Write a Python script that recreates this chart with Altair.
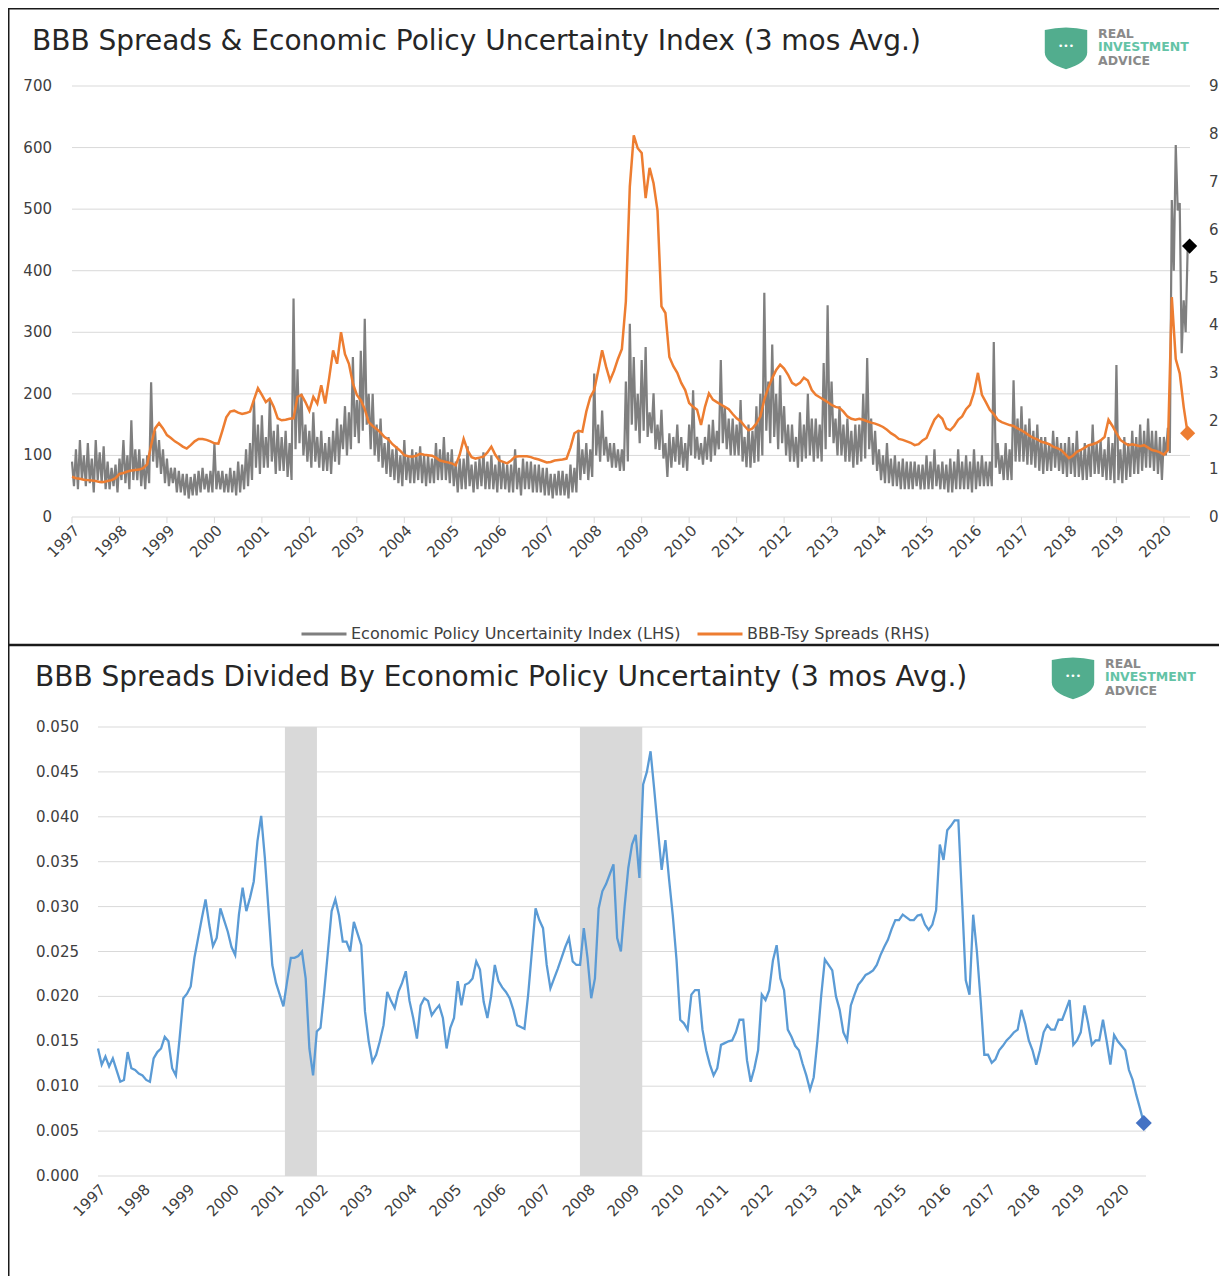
import altair as alt
import pandas as pd

# ---------------- data (monthly, Jan 1997 .. Jul 2020) ----------------
EPU_NAME = "Economic Policy Uncertainity Index (LHS)"
BBB_NAME = "BBB-Tsy Spreads (RHS)"

# EPU: a high reading early in each month and a low reading later in the month
epu_hi = [
    90, 110, 125, 100, 120, 95, 125, 105, 115, 90, 80, 85,          # 1997
    95, 125, 100, 157, 110, 110, 95, 100, 219, 140, 125, 110,       # 1998
    95, 80, 80, 75, 70, 70, 65, 70, 75, 80, 70, 75,                 # 1999
    119, 75, 75, 70, 80, 75, 90, 85, 110, 120, 190, 150,            # 2000
    165, 130, 190, 140, 150, 130, 140, 120, 355, 240, 200, 150,     # 2001
    140, 170, 130, 140, 120, 130, 140, 160, 150, 180, 170, 260,     # 2002
    190, 270, 322, 200, 200, 150, 160, 120, 130, 110, 115, 100,     # 2003
    125, 100, 110, 105, 115, 100, 100, 95, 120, 110, 130, 105,      # 2004
    110, 90, 95, 95, 115, 85, 90, 95, 105, 90, 100, 85,             # 2005
    100, 90, 85, 85, 110, 80, 95, 90, 90, 85, 85, 80,               # 2006
    80, 70, 70, 75, 75, 70, 85, 80, 140, 110, 120, 110,             # 2007
    233, 150, 173, 130, 120, 120, 110, 110, 220, 314, 260, 200,     # 2008
    255, 276, 170, 201, 150, 174, 120, 136, 130, 150, 130, 120,     # 2009
    150, 206, 130, 120, 130, 150, 158, 140, 255, 180, 160, 160,     # 2010
    150, 190, 130, 150, 140, 180, 200, 364, 220, 280, 200, 230,     # 2011
    180, 150, 150, 130, 170, 150, 200, 160, 160, 150, 250, 344,     # 2012
    220, 160, 180, 150, 160, 140, 150, 150, 200, 258, 160, 140,     # 2013
    110, 100, 120, 95, 100, 90, 95, 90, 90, 90, 85, 85,             # 2014
    100, 90, 110, 85, 90, 85, 95, 90, 110, 90, 100, 90,             # 2015
    110, 90, 100, 90, 90, 284, 120, 100, 120, 110, 222, 160,        # 2016
    180, 150, 160, 140, 150, 130, 130, 120, 140, 130, 120, 120,     # 2017
    130, 120, 140, 110, 120, 115, 150, 120, 125, 110, 130, 120,     # 2018
    247, 110, 130, 120, 140, 130, 150, 140, 160, 140, 140, 130,     # 2019
    130, 145, 515, 604, 510, 352, 434,                              # 2020
]
epu_lo = [
    50, 45, 60, 50, 55, 40, 60, 55, 45, 45, 50, 40,                 # 1997
    60, 55, 45, 60, 60, 50, 45, 55, 90, 80, 70, 55,                 # 1998
    50, 55, 40, 40, 35, 30, 35, 35, 40, 45, 40, 40,                 # 1999
    45, 45, 40, 40, 40, 35, 40, 45, 50, 60, 80, 70,                 # 2000
    80, 80, 90, 70, 75, 75, 65, 60, 110, 120, 100, 90,              # 2001
    80, 90, 80, 75, 75, 70, 90, 85, 110, 100, 110, 130,             # 2002
    120, 140, 150, 110, 100, 90, 80, 70, 65, 60, 55, 50,            # 2003
    60, 55, 55, 60, 55, 50, 55, 55, 60, 60, 60, 55,                 # 2004
    50, 40, 45, 45, 50, 40, 45, 50, 45, 45, 45, 40,                 # 2005
    45, 45, 40, 40, 45, 35, 45, 45, 40, 40, 40, 35,                 # 2006
    35, 30, 35, 35, 35, 30, 40, 40, 60, 70, 60, 65,                 # 2007
    100, 90, 100, 90, 80, 80, 75, 75, 90, 150, 140, 120,            # 2008
    140, 130, 136, 110, 109, 95, 65, 80, 90, 85, 80, 75,            # 2009
    100, 95, 93, 85, 93, 90, 100, 110, 120, 110, 100, 100,          # 2010
    100, 90, 81, 80, 88, 90, 100, 140, 120, 130, 110, 120,          # 2011
    100, 90, 90, 80, 90, 95, 100, 90, 95, 90, 110, 130,             # 2012
    120, 100, 100, 90, 90, 80, 85, 90, 95, 110, 85, 75,             # 2013
    60, 55, 55, 50, 50, 45, 45, 45, 45, 50, 45, 45,                 # 2014
    45, 45, 50, 45, 45, 40, 40, 45, 45, 45, 45, 40,                 # 2015
    45, 50, 50, 50, 50, 80, 70, 60, 60, 60, 90, 90,                 # 2016
    90, 85, 85, 80, 75, 70, 75, 75, 80, 75, 70, 65,                 # 2017
    70, 65, 65, 60, 60, 65, 70, 70, 65, 60, 60, 55,                 # 2018
    60, 55, 60, 65, 70, 70, 75, 80, 80, 75, 70, 60,                 # 2019
    100, 104, 400, 498, 266, 300, 440,                              # 2020
]

bbb = [
    0.84, 0.81, 0.80, 0.78, 0.77, 0.76, 0.75, 0.73, 0.73, 0.75, 0.77, 0.81,  # 1997
    0.90, 0.92, 0.95, 0.97, 0.98, 0.99, 1.02, 1.10, 1.50, 1.85, 1.96, 1.85,  # 1998
    1.71, 1.65, 1.58, 1.53, 1.47, 1.43, 1.50, 1.58, 1.63, 1.63, 1.61, 1.58,  # 1999
    1.54, 1.53, 1.80, 2.08, 2.20, 2.22, 2.18, 2.15, 2.17, 2.20, 2.45, 2.69,  # 2000
    2.55, 2.40, 2.47, 2.30, 2.06, 2.02, 2.03, 2.05, 2.06, 2.51, 2.55, 2.40,  # 2001
    2.22, 2.51, 2.37, 2.75, 2.37, 2.90, 3.48, 3.20, 3.86, 3.40, 3.20, 2.79,  # 2002
    2.55, 2.44, 2.25, 1.98, 1.90, 1.84, 1.76, 1.67, 1.62, 1.52, 1.45, 1.38,  # 2003
    1.29, 1.27, 1.26, 1.28, 1.32, 1.30, 1.29, 1.28, 1.24, 1.18, 1.16, 1.14,  # 2004
    1.12, 1.08, 1.30, 1.63, 1.39, 1.25, 1.22, 1.24, 1.26, 1.35, 1.47, 1.30,  # 2005
    1.18, 1.15, 1.12, 1.18, 1.26, 1.27, 1.27, 1.27, 1.25, 1.22, 1.20, 1.17,  # 2006
    1.14, 1.15, 1.18, 1.19, 1.20, 1.22, 1.45, 1.75, 1.80, 1.78, 2.20, 2.50,  # 2007
    2.65, 3.05, 3.48, 3.14, 2.85, 3.05, 3.30, 3.51, 4.50, 6.90, 7.97, 7.70,  # 2008
    7.60, 6.66, 7.29, 6.97, 6.40, 4.40, 4.26, 3.34, 3.15, 3.01, 2.80, 2.65,  # 2009
    2.38, 2.30, 2.24, 1.92, 2.30, 2.58, 2.45, 2.40, 2.35, 2.30, 2.25, 2.15,  # 2010
    2.06, 2.00, 1.90, 1.81, 1.85, 1.95, 2.10, 2.45, 2.70, 2.90, 3.07, 3.18,  # 2011
    3.10, 2.97, 2.80, 2.75, 2.80, 2.91, 2.85, 2.65, 2.55, 2.50, 2.45, 2.40,  # 2012
    2.34, 2.30, 2.28, 2.20, 2.10, 2.05, 2.03, 2.05, 2.03, 2.00, 1.97, 1.95,  # 2013
    1.92, 1.88, 1.82, 1.75, 1.70, 1.63, 1.61, 1.58, 1.55, 1.50, 1.52, 1.60,  # 2014
    1.65, 1.85, 2.03, 2.13, 2.05, 1.85, 1.81, 1.90, 2.03, 2.10, 2.25, 2.34,  # 2015
    2.60, 3.01, 2.55, 2.40, 2.24, 2.15, 2.03, 1.98, 1.95, 1.92, 1.90, 1.85,  # 2016
    1.81, 1.76, 1.70, 1.65, 1.62, 1.57, 1.55, 1.52, 1.47, 1.44, 1.40, 1.32,  # 2017
    1.23, 1.28, 1.36, 1.40, 1.45, 1.50, 1.52, 1.55, 1.60, 1.67, 2.03, 1.90,  # 2018
    1.75, 1.61, 1.55, 1.50, 1.52, 1.50, 1.48, 1.50, 1.45, 1.40, 1.38, 1.35,  # 2019
    1.30, 1.40, 4.59, 3.30, 3.00, 2.30, 1.75,                                # 2020
]

ratio = [
    0.0142, 0.0124, 0.0133, 0.0122, 0.0131, 0.0118, 0.0105, 0.0107, 0.0138, 0.0120, 0.0118, 0.0114,  # 1997
    0.0112, 0.0107, 0.0105, 0.0131, 0.0138, 0.0142, 0.0155, 0.0150, 0.0120, 0.0112, 0.0153, 0.0198,  # 1998
    0.0203, 0.0211, 0.0243, 0.0265, 0.0287, 0.0308, 0.0280, 0.0256, 0.0265, 0.0298, 0.0285, 0.0272,  # 1999
    0.0255, 0.0246, 0.0291, 0.0321, 0.0295, 0.0310, 0.0328, 0.0373, 0.0401, 0.0354, 0.0295, 0.0235,  # 2000
    0.0215, 0.0202, 0.0189, 0.0217, 0.0243, 0.0243, 0.0245, 0.0250, 0.0220, 0.0142, 0.0112, 0.0161,  # 2001
    0.0165, 0.0205, 0.0250, 0.0295, 0.0308, 0.0290, 0.0261, 0.0261, 0.0250, 0.0283, 0.0270, 0.0257,  # 2002
    0.0183, 0.0150, 0.0127, 0.0135, 0.0150, 0.0168, 0.0205, 0.0195, 0.0187, 0.0205, 0.0215, 0.0228,  # 2003
    0.0195, 0.0176, 0.0153, 0.0190, 0.0198, 0.0195, 0.0179, 0.0185, 0.0190, 0.0176, 0.0142, 0.0165,  # 2004
    0.0176, 0.0217, 0.0190, 0.0213, 0.0215, 0.0220, 0.0239, 0.0230, 0.0194, 0.0176, 0.0200, 0.0235,  # 2005
    0.0217, 0.0210, 0.0205, 0.0198, 0.0185, 0.0168, 0.0166, 0.0164, 0.0202, 0.0250, 0.0298, 0.0285,  # 2006
    0.0276, 0.0235, 0.0209, 0.0220, 0.0231, 0.0243, 0.0255, 0.0265, 0.0239, 0.0235, 0.0235, 0.0276,  # 2007
    0.0243, 0.0198, 0.0220, 0.0298, 0.0317, 0.0325, 0.0336, 0.0347, 0.0265, 0.0250, 0.0300, 0.0343,  # 2008
    0.0369, 0.0380, 0.0332, 0.0436, 0.0450, 0.0473, 0.0430, 0.0385, 0.0341, 0.0374, 0.0330, 0.0290,  # 2009
    0.0241, 0.0174, 0.0170, 0.0163, 0.0202, 0.0207, 0.0207, 0.0163, 0.0140, 0.0124, 0.0112, 0.0120,  # 2010
    0.0146, 0.0148, 0.0150, 0.0151, 0.0160, 0.0174, 0.0174, 0.0129, 0.0105, 0.0120, 0.0140, 0.0202,  # 2011
    0.0196, 0.0207, 0.0240, 0.0257, 0.0220, 0.0207, 0.0163, 0.0155, 0.0145, 0.0140, 0.0125, 0.0112,  # 2012
    0.0096, 0.0110, 0.0151, 0.0200, 0.0241, 0.0235, 0.0229, 0.0200, 0.0185, 0.0160, 0.0151, 0.0190,  # 2013
    0.0202, 0.0213, 0.0218, 0.0224, 0.0226, 0.0229, 0.0235, 0.0246, 0.0255, 0.0263, 0.0275, 0.0285,  # 2014
    0.0285, 0.0291, 0.0288, 0.0285, 0.0285, 0.0290, 0.0291, 0.0280, 0.0274, 0.0280, 0.0296, 0.0369,  # 2015
    0.0352, 0.0385, 0.0390, 0.0396, 0.0396, 0.0307, 0.0218, 0.0202, 0.0291, 0.0250, 0.0196, 0.0135,  # 2016
    0.0135, 0.0126, 0.0130, 0.0140, 0.0145, 0.0151, 0.0155, 0.0160, 0.0163, 0.0185, 0.0170, 0.0151,  # 2017
    0.0140, 0.0124, 0.0140, 0.0160, 0.0168, 0.0163, 0.0163, 0.0174, 0.0174, 0.0185, 0.0196, 0.0146,  # 2018
    0.0151, 0.0160, 0.0190, 0.0170, 0.0146, 0.0151, 0.0151, 0.0174, 0.0150, 0.0124, 0.0157, 0.0150,  # 2019
    0.0145, 0.0140, 0.0118, 0.0107, 0.0090, 0.0075, 0.0059,                                          # 2020
]

rec_start = [2001.2, 2007.83]
rec_end = [2001.92, 2009.23]

year_ticks = list(range(1997, 2021))
left_ticks = list(range(0, 701, 100))
right_ticks = list(range(0, 10))
ratio_ticks = [0.0, 0.005, 0.01, 0.015, 0.02, 0.025, 0.03, 0.035, 0.04, 0.045, 0.05]

TITLE_TOP = "BBB Spreads & Economic Policy Uncertainty Index (3 mos Avg.)"
TITLE_BOT = "BBB Spreads Divided By Economic Policy Uncertainty (3 mos Avg.)"

# ---------------- frames ----------------
n = len(bbb)
t = [y + m / 12 for y in range(1997, 2021) for m in range(12)][:n]
top_df = pd.DataFrame({"t": t, "bbb": bbb})
epu_rows = []
for i in range(n):
    epu_rows.append({"t": t[i], "epu": epu_hi[i]})
    epu_rows.append({"t": t[i] + 0.5 / 12, "epu": epu_lo[i]})
epu_df = pd.DataFrame(epu_rows)
bot_df = pd.DataFrame({"t": t[:len(ratio)], "ratio": ratio})
rec_df = pd.DataFrame({"start": rec_start, "end": rec_end})
year_df = pd.DataFrame({"v": year_ticks, "lab": [str(y) for y in year_ticks]})
left_df = pd.DataFrame({"v": left_ticks, "lab": [str(v) for v in left_ticks]})
right_df = pd.DataFrame({"v": right_ticks, "lab": [str(v) for v in right_ticks]})
ratio_df = pd.DataFrame({"v": ratio_ticks, "lab": [f"{v:.3f}" for v in ratio_ticks]})
one = alt.Data(values=[{"k": 0}])

# ---------------- geometry (single canvas, page offset 8px) ----------------
W, H = 1211, 1268
FONT = "DejaVu Sans"
GRID = "#D9D9D9"
LAB = "#404040"
X_DOMAIN = [1997, 2020.55]

TOP_L, TOP_R, TOP_T, TOP_B = 64, 1182, 78, 509
BOT_L, BOT_R, BOT_T, BOT_B = 90, 1138, 719, 1168

xs_top = alt.Scale(domain=X_DOMAIN, range=[TOP_L, TOP_R], nice=False, zero=False)
ys_left = alt.Scale(domain=[0, 700], range=[TOP_B, TOP_T], nice=False, zero=False)
ys_right = alt.Scale(domain=[0, 9], range=[TOP_B, TOP_T], nice=False, zero=False)
xs_bot = alt.Scale(domain=X_DOMAIN, range=[BOT_L, BOT_R], nice=False, zero=False)
ys_bot = alt.Scale(domain=[0, 0.05], range=[BOT_B, BOT_T], nice=False, zero=False)

SHIELD = "M-1,-0.8 Q0,-1.05 1,-0.8 L1,0.25 Q1,0.75 0,1.05 Q-1,0.75 -1,0.25 Z"


def X(field, scale):
    return alt.X(field, scale=scale, axis=None)


def Y(field, scale):
    return alt.Y(field, scale=scale, axis=None)


def deco_text(txt, x, y, size, color, weight="normal", align="left"):
    return alt.Chart(one).mark_text(
        text=txt, align=align, baseline="middle", font=FONT, fontSize=size,
        color=color, fontWeight=weight
    ).encode(x=alt.value(x), y=alt.value(y))


def hrule(x1, x2, y, w=1.5):
    return alt.Chart(one).mark_rule(color="#1a1a1a", strokeWidth=w).encode(
        x=alt.value(x1), x2=alt.value(x2), y=alt.value(y))


def vrule(x, y1, y2, w=1.5):
    return alt.Chart(one).mark_rule(color="#1a1a1a", strokeWidth=w).encode(
        x=alt.value(x), y=alt.value(y1), y2=alt.value(y2))


def logo(cx, cy):
    shield = alt.Chart(one).mark_point(
        shape=SHIELD, filled=True, size=1800, color="#52AD8E", opacity=1
    ).encode(x=alt.value(cx), y=alt.value(cy))
    dots = deco_text("•••", cx, cy - 1, 9, "white", align="center")
    tx = cx + 32
    real = deco_text("REAL", tx, cy - 13.5, 12.5, "#8a8a8a", "bold")
    inv = deco_text("INVESTMENT", tx, cy, 12.5, "#63C3A6", "bold")
    adv = deco_text("ADVICE", tx, cy + 13.5, 12.5, "#8a8a8a", "bold")
    return [shield, dots, real, inv, adv]


def grid_layer(df, yscale, x1, x2):
    return alt.Chart(df).mark_rule(color=GRID, strokeWidth=1).encode(
        x=alt.value(x1), x2=alt.value(x2), y=Y("v:Q", yscale))


def ylabel_layer(df, yscale, x, align):
    return alt.Chart(df).mark_text(
        align=align, baseline="middle", font=FONT, fontSize=15, color=LAB
    ).encode(x=alt.value(x), y=Y("v:Q", yscale), text="lab:N")


def xlabel_layer(xscale, y):
    return alt.Chart(year_df).mark_text(
        align="right", baseline="top", angle=315, font=FONT, fontSize=15, color=LAB
    ).encode(x=X("v:Q", xscale), y=alt.value(y), text="lab:N")


# ---------------- top panel ----------------
color_scale = alt.Scale(domain=[EPU_NAME, BBB_NAME], range=["#7F7F7F", "#ED7D31"])
legend = alt.Legend(
    orient="none", legendX=292, legendY=602, direction="horizontal", title=None,
    symbolType="stroke", symbolSize=2025, symbolStrokeWidth=3, labelFontSize=16,
    labelFont=FONT, labelColor=LAB, columnPadding=10, labelOffset=3, padding=0,
    labelLimit=600,
)

top_layers = [
    grid_layer(left_df, ys_left, TOP_L, TOP_R),
    alt.Chart(year_df).mark_rule(color=GRID).encode(
        x=X("v:Q", xs_top), y=alt.value(TOP_B), y2=alt.value(TOP_B + 6)),
    alt.Chart(epu_df).transform_calculate(series=f"'{EPU_NAME}'").mark_line(
        strokeWidth=2.2).encode(x=X("t:Q", xs_top), y=Y("epu:Q", ys_left),
                                color=alt.Color("series:N", scale=color_scale, legend=legend)),
    alt.Chart(top_df).transform_calculate(series=f"'{BBB_NAME}'").mark_line(
        strokeWidth=2.5).encode(x=X("t:Q", xs_top), y=Y("bbb:Q", ys_right),
                                color=alt.Color("series:N", scale=color_scale, legend=legend)),
    alt.Chart(epu_df.tail(1)).mark_point(
        shape="diamond", filled=True, size=230, color="black", opacity=1
    ).encode(x=X("t:Q", xs_top), y=Y("epu:Q", ys_left)),
    alt.Chart(top_df.tail(1)).mark_point(
        shape="diamond", filled=True, size=230, color="#ED7D31", opacity=1
    ).encode(x=X("t:Q", xs_top), y=Y("bbb:Q", ys_right)),
    ylabel_layer(left_df, ys_left, TOP_L - 20, "right"),
    ylabel_layer(right_df, ys_right, TOP_R + 19, "left"),
    xlabel_layer(xs_top, TOP_B + 6),
    deco_text(TITLE_TOP, 24, 34, 28, "#262626"),
] + logo(1058, 39)

# ---------------- bottom panel ----------------
bot_layers = [
    grid_layer(ratio_df, ys_bot, BOT_L, BOT_R),
    alt.Chart(rec_df).mark_rect(color="#D9D9D9").encode(
        x=X("start:Q", xs_bot), x2="end:Q", y=alt.value(BOT_T), y2=alt.value(BOT_B)),
    alt.Chart(bot_df).mark_line(strokeWidth=2.3, color="#5B9BD5").encode(
        x=X("t:Q", xs_bot), y=Y("ratio:Q", ys_bot)),
    alt.Chart(bot_df.tail(1)).mark_point(
        shape="diamond", filled=True, size=260, color="#4472C4", opacity=1
    ).encode(x=X("t:Q", xs_bot), y=Y("ratio:Q", ys_bot)),
    ylabel_layer(ratio_df, ys_bot, BOT_L - 19, "right"),
    xlabel_layer(xs_bot, BOT_B + 6),
    deco_text(TITLE_BOT, 27, 670, 28, "#262626"),
] + logo(1065, 669)

# ---------------- panel frames ----------------
frames = [
    hrule(0, W, 0.75), vrule(0.75, 0, H),
    hrule(0, W, 637, 2.5),
]

chart = alt.layer(*top_layers, *bot_layers, *frames).resolve_scale(
    x="independent", y="independent"
).properties(
    width=W, height=H, padding=0, background="white",
    autosize=alt.AutoSizeParams(type="none"),
).configure_view(stroke=None)

chart.save("out.html", embed_options={"renderer": "svg", "actions": False})
